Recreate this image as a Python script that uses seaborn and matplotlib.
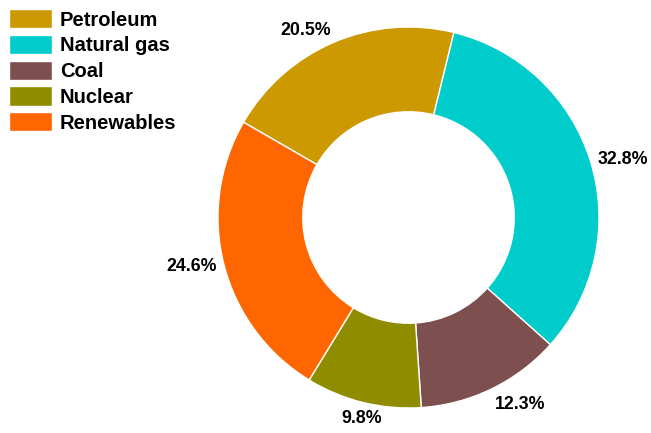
import numpy as np
import matplotlib
matplotlib.use("Agg")
import matplotlib.pyplot as plt
import seaborn as sns

# Energy mix shares (percent)
sources = ["Petroleum", "Natural gas", "Coal", "Nuclear", "Renewables"]
shares = [20.5, 32.8, 12.3, 9.8, 24.6]
hex_colors = ["#CC9900", "#00CCCC", "#7D4F4F", "#8F8C00", "#FF6600"]

sns.set_theme(style="white")
plt.rcParams["font.family"] = ["Liberation Sans", "DejaVu Sans"]
plt.rcParams["text.color"] = "black"
palette = sns.color_palette(hex_colors)

fig = plt.figure(figsize=(6.51, 4.33), dpi=100)
ax = fig.add_axes([0, 0, 1, 1])
ax.set_axis_off()

start = 150
wedges, _ = ax.pie(
    shares,
    colors=palette,
    startangle=start,
    counterclock=False,
    radius=1.0,
    wedgeprops=dict(width=0.445, edgecolor="white", linewidth=1.0),
)

# Percentage labels just outside the ring, anchored by their nearest corner
for w, val in zip(wedges, shares):
    theta = np.deg2rad((w.theta1 + w.theta2) / 2)
    c, s = np.cos(theta), np.sin(theta)
    r = 1.04
    ha = "left" if c > 0.3 else ("right" if c < -0.3 else "center")
    va = "baseline" if s > 0.3 else ("top" if s < -0.3 else "center")
    ax.text(r * c, r * s, f"{val:.1f}%", ha=ha, va=va,
            fontsize=12.8, fontweight="bold", color="black")

# Map data units to the canvas: ring centre and radius in pixels
cx, cy, rad = 408.5, 217.5, 190.5
W, H = 651, 433
ax.set_xlim(-cx / rad, (W - cx) / rad)
ax.set_ylim(-(H - cy) / rad, cy / rad)

leg = fig.legend(
    wedges, sources,
    loc="upper left",
    bbox_to_anchor=(9 / W, 1 - 9 / H),
    frameon=False,
    borderpad=0, borderaxespad=0,
    handlelength=2.15, handleheight=1.1,
    handletextpad=0.38, labelspacing=0.26,
    labelcolor="black",
    prop=dict(family=["Liberation Sans", "DejaVu Sans"], weight="bold", size=14.5),
)

fig.savefig("out.png", dpi=100)
